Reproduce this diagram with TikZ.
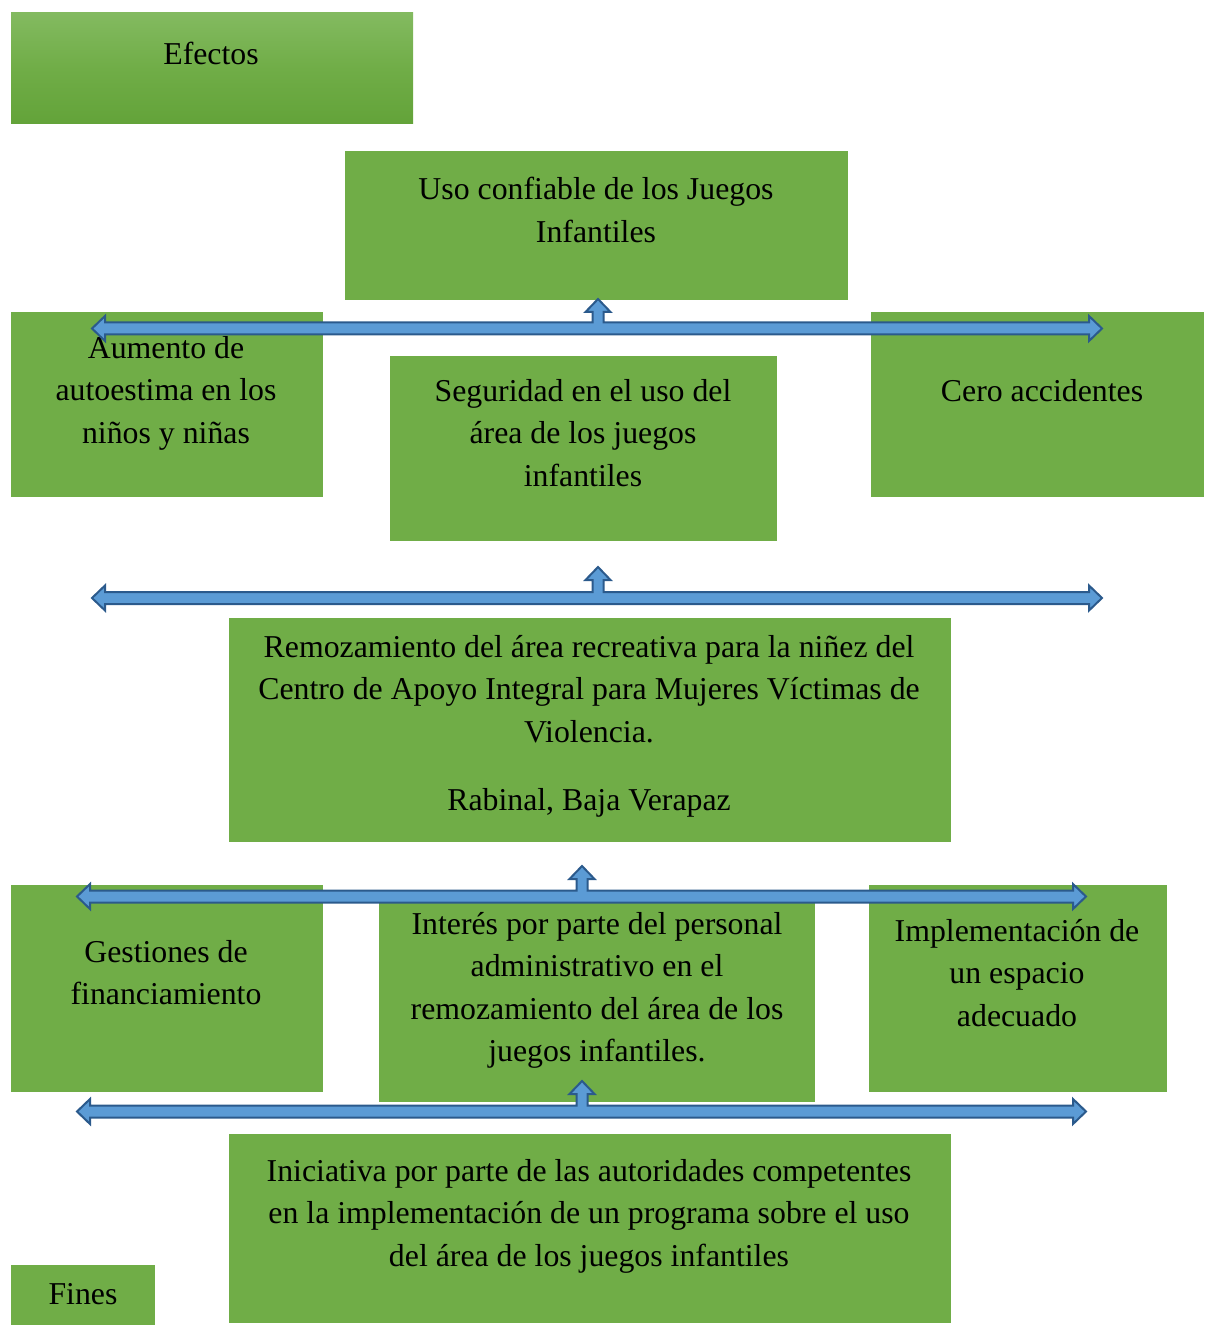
\documentclass[tikz,border=0pt]{standalone}
\usepackage{fontspec}
\setmainfont{Liberation Serif}
\usetikzlibrary{fit}
\definecolor{boxgreen}{HTML}{70AD47}
\definecolor{topgreen}{HTML}{83BA60}
\definecolor{botgreen}{HTML}{63A339}
\definecolor{arrowfill}{HTML}{5B9BD5}
\definecolor{arrowline}{HTML}{2B5A8C}
\begin{document}
\begin{tikzpicture}[x=0.5pt,y=-0.5pt]
    \tikzstyle{box}=[fill=boxgreen,draw=none,inner sep=0pt]
    \tikzstyle{txt}=[anchor=north,yshift=6.1pt,inner sep=0pt,align=center,
      font=\fontsize{15.9}{21.25}\selectfont,execute at begin node=\strut]
    \tikzstyle{single}=[yshift=3.5pt]
    \tikzstyle{blockarrow}=[fill=arrowfill,draw=arrowline,line width=1pt,line join=miter]
    \useasboundingbox (0,0) rectangle (1204,1326);
    % cajas
    \node[box,top color=topgreen,bottom color=botgreen,middle color=boxgreen,
      fit={(11,13) (413,124)}] (efectos) {};
    \node[box,fit={(345,151) (848,300)}] (uso) {};
    \node[box,fit={(11,312) (323,497)}] (aumento) {};
    \node[box,fit={(390,356) (777,541)}] (seguridad) {};
    \node[box,fit={(871,312) (1204,497)}] (cero) {};
    \node[box,fit={(229,618) (951,842)}] (remoz) {};
    \node[box,fit={(11,885) (323,1092)}] (gestiones) {};
    \node[box,fit={(379,900) (815,1102)}] (interes) {};
    \node[box,fit={(869,885) (1167,1092)}] (implem) {};
    \node[box,fit={(229,1134) (951,1323)}] (iniciativa) {};
    \node[box,fit={(11,1265) (155,1325)}] (fines) {};
    % textos
    \node[txt,single] (efectos-t) at (211,54) {Efectos};
    \node[txt] (uso-t) at (596,189) {Uso confiable de los Juegos\\Infantiles};
    \node[txt] (aumento-t) at (166,348) {Aumento de\\autoestima en los\\niños y niñas};
    \node[txt] (seguridad-t) at (583,391) {Seguridad en el uso del\\área de los juegos\\infantiles};
    \node[txt,single] (cero-t) at (1042,391) {Cero accidentes};
    \node[txt] (remoz-t) at (589,647) {Remozamiento del área recreativa para la niñez del\\
      Centro de Apoyo Integral para Mujeres Víctimas de\\Violencia.\\[13pt]Rabinal, Baja Verapaz};
    \node[txt] (gestiones-t) at (166,952) {Gestiones de\\financiamiento};
    \node[txt] (interes-t) at (597,924) {Interés por parte del personal\\administrativo en el\\
      remozamiento del área de los\\juegos infantiles.};
    \node[txt] (implem-t) at (1017,931) {Implementación de\\un espacio\\adecuado};
    \node[txt] (iniciativa-t) at (589,1171) {Iniciativa por parte de las autoridades competentes\\
      en la implementación de un programa sobre el uso\\del área de los juegos infantiles};
    \node[txt,single] (fines-t) at (83,1294) {Fines};
    % flechas de tres puntas
    \foreach \yc/\xl/\xr/\xm/\tip in {328.5/92/1102/598/299, 598/92/1102/598/567,
        896.5/77/1086/582/866, 1111.5/77/1086/582/1081}
      \draw[blockarrow] (\xl,\yc) -- ({\xl+13},{\yc-12.5}) -- ({\xl+13},{\yc-6})
        -- ({\xm-5.5},{\yc-6}) -- ({\xm-5.5},{\tip+13}) -- ({\xm-12.5},{\tip+13})
        -- (\xm,\tip) -- ({\xm+12.5},{\tip+13}) -- ({\xm+5.5},{\tip+13})
        -- ({\xm+5.5},{\yc-6}) -- ({\xr-13},{\yc-6}) -- ({\xr-13},{\yc-12.5})
        -- (\xr,\yc) -- ({\xr-13},{\yc+12.5}) -- ({\xr-13},{\yc+6})
        -- ({\xl+13},{\yc+6}) -- ({\xl+13},{\yc+12.5}) -- cycle;
  \end{tikzpicture}
\end{document}
